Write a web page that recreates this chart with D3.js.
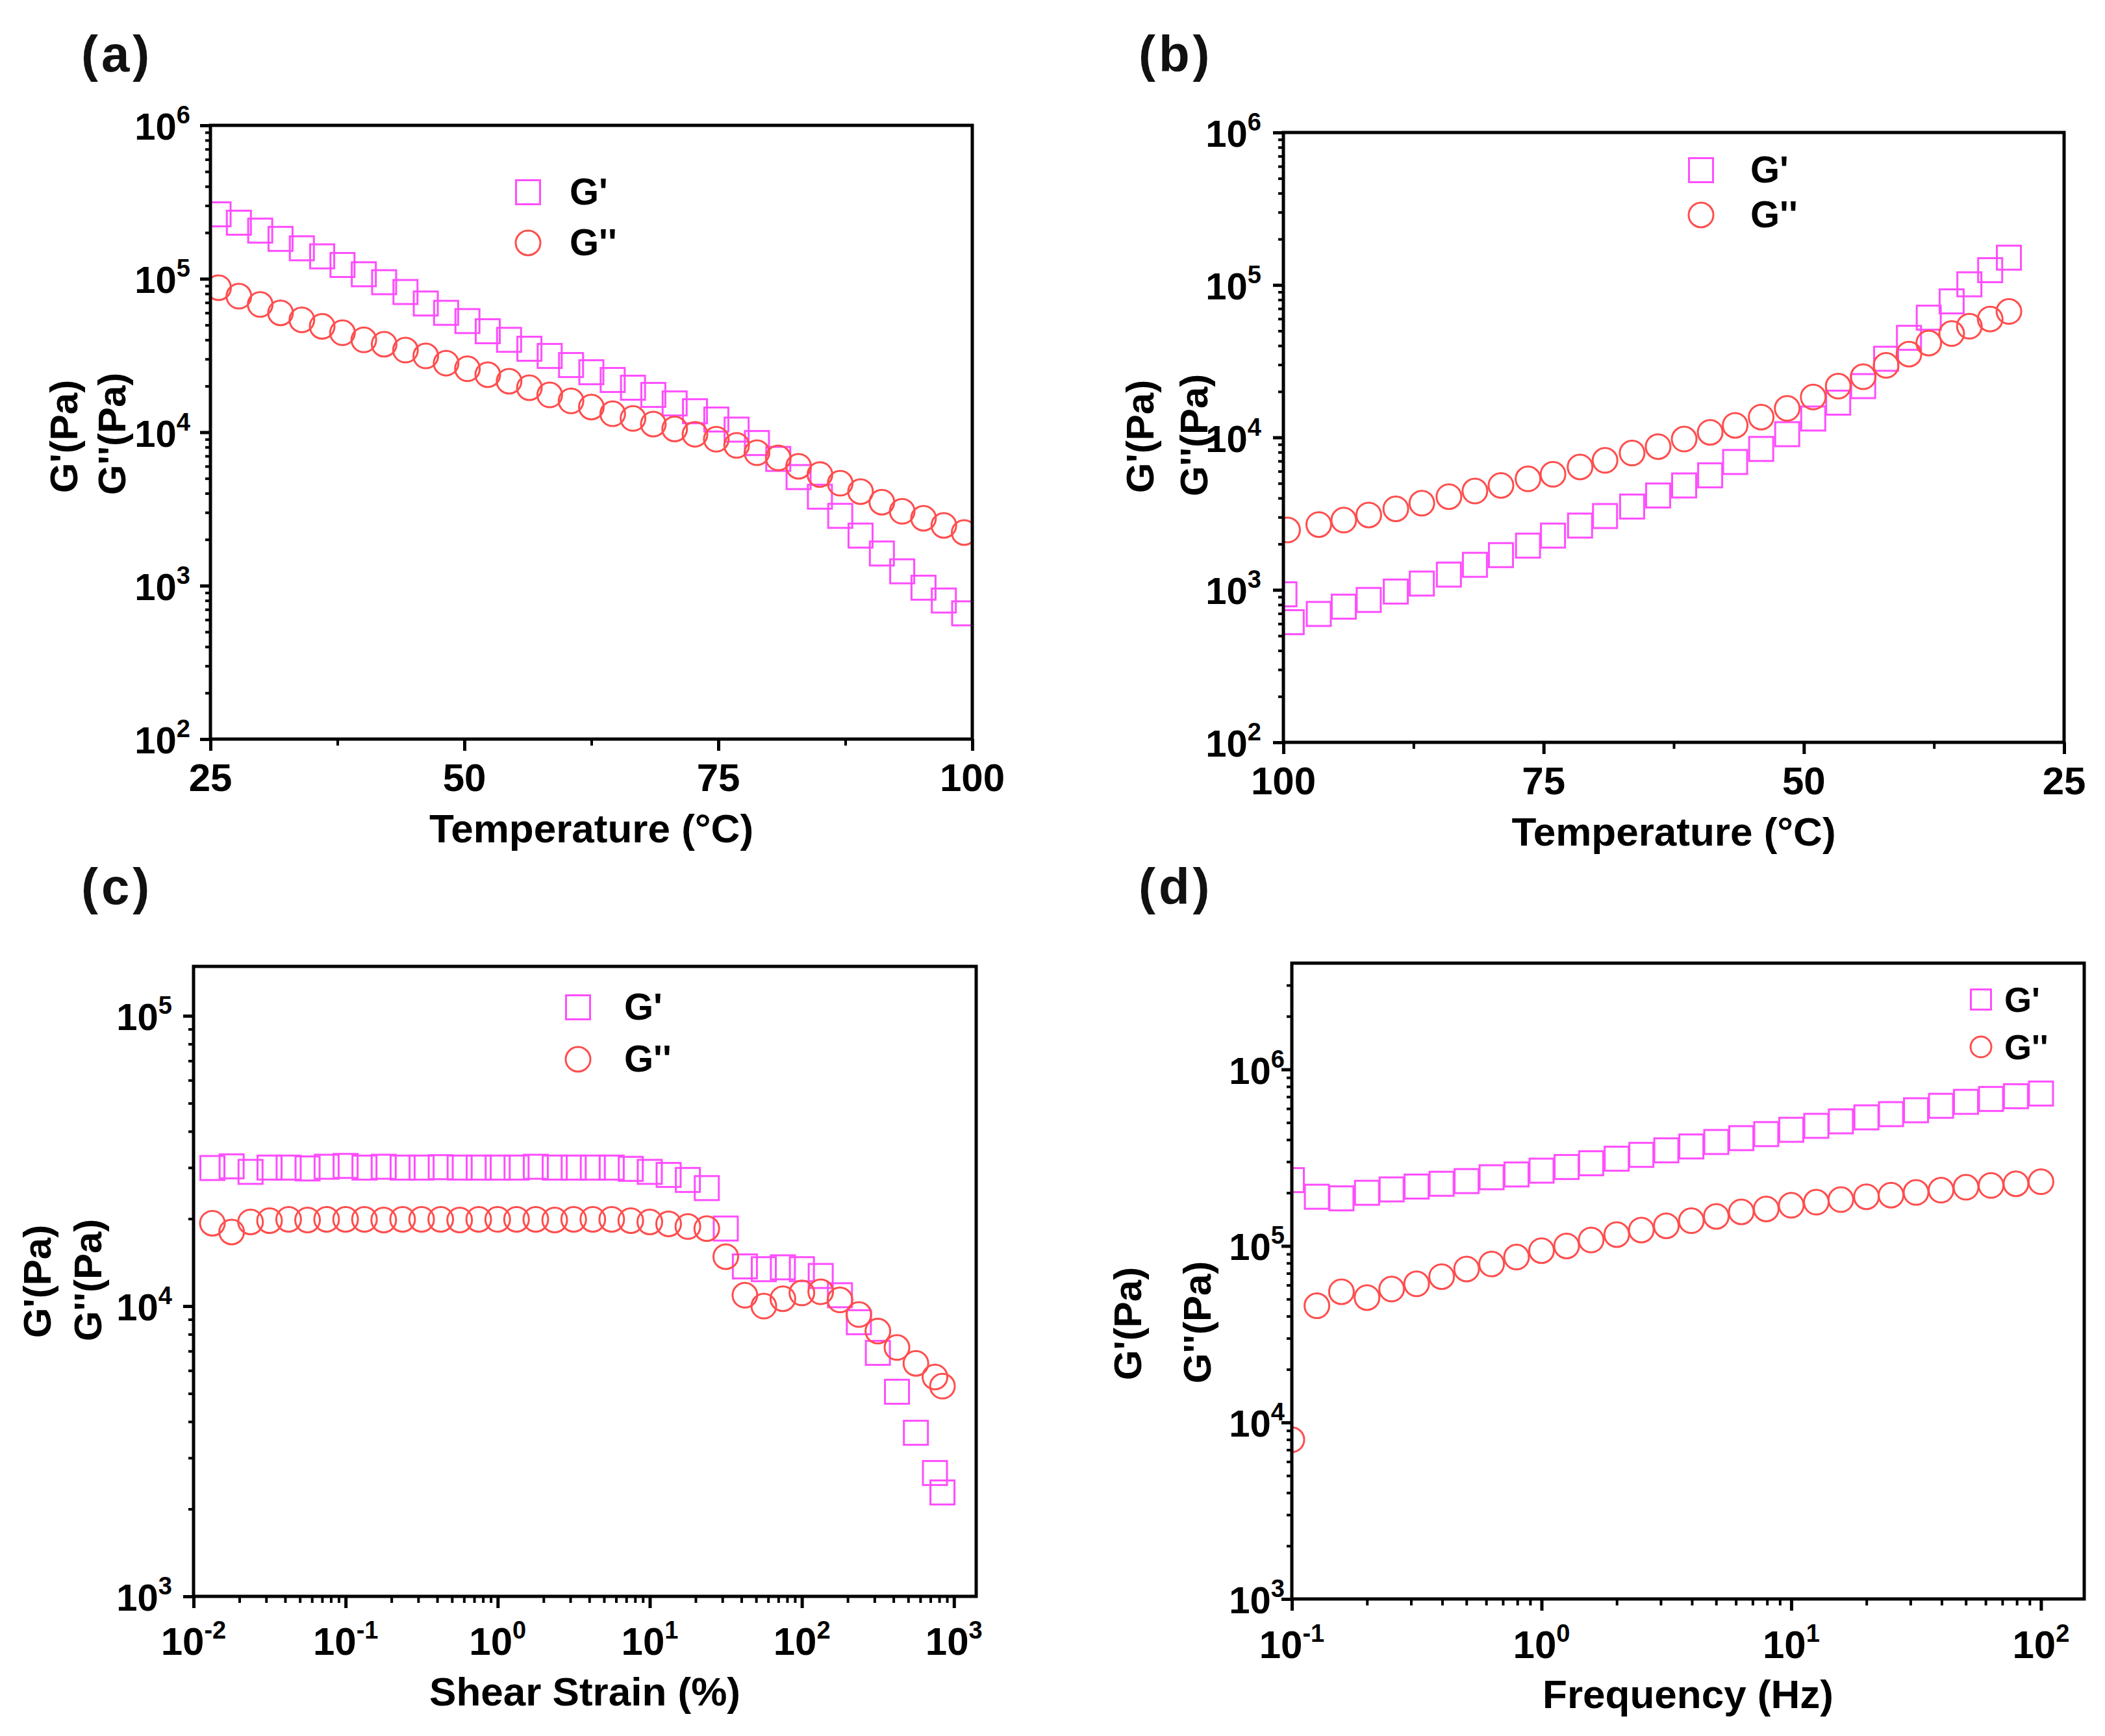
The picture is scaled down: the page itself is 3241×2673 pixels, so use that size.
<!DOCTYPE html>
<html>
<head>
<meta charset="utf-8">
<script src="https://cdn.jsdelivr.net/npm/d3@7"></script>
<style>
  body { margin: 0; background: #fff; }
</style>
</head>
<body>
<div id="chart"></div>
<script>
// ---- (a) heating temperature sweep ----
const tempA = [25.8, 27.8, 29.9, 31.9, 34.0, 36.0, 38.0, 40.1, 42.1, 44.2, 46.2, 48.2, 50.3,
    52.3, 54.4, 56.4, 58.4, 60.5, 62.5, 64.6, 66.6, 68.6, 70.7, 72.7, 74.8, 76.8, 78.8,
    80.9, 82.9, 85.0, 87.0, 89.0, 91.1, 93.1, 95.2, 97.2, 99.2];
const gpA = [2.63e5, 2.32e5, 2.06e5, 1.82e5, 1.58e5, 1.4e5, 1.23e5, 1.07e5, 9.5e4, 8.2e4,
    6.9e4, 6.0e4, 5.3e4, 4.55e4, 4.0e4, 3.5e4, 3.14e4, 2.74e4, 2.46e4, 2.19e4, 1.95e4,
    1.75e4, 1.54e4, 1.37e4, 1.21e4, 1.04e4, 8.5e3, 6.7e3, 5.1e3, 3.8e3, 2.85e3, 2.12e3,
    1.62e3, 1.24e3, 970, 800, 660];
const gppA = [8.75e4, 7.7e4, 6.8e4, 6.0e4, 5.4e4, 4.9e4, 4.45e4, 4.0e4, 3.75e4, 3.43e4,
    3.14e4, 2.82e4, 2.59e4, 2.37e4, 2.15e4, 1.95e4, 1.75e4, 1.6e4, 1.46e4, 1.32e4, 1.23e4,
    1.13e4, 1.05e4, 9.7e3, 9.0e3, 8.2e3, 7.35e3, 6.8e3, 6.0e3, 5.3e3, 4.65e3, 4.1e3,
    3.5e3, 3.05e3, 2.75e3, 2.47e3, 2.22e3];

// ---- (b) cooling temperature sweep ----
const tempBgp = [99.9, 99.2, 96.6, 94.2, 91.8, 89.2, 86.7, 84.1, 81.6, 79.1, 76.5, 74.1,
    71.5, 69.1, 66.5, 64.0, 61.5, 59.0, 56.6, 54.1, 51.6, 49.1, 46.7, 44.3, 42.1, 39.9,
    38.0, 35.8, 34.1, 32.1, 30.3];
const gpB = [935, 614, 695, 776, 859, 975, 1100, 1260, 1460, 1690, 1950, 2270, 2640, 3050,
    3520, 4160, 4840, 5640, 6900, 8400, 10500, 13300, 16900, 21700, 32800, 45000, 61000,
    78000, 101000, 125000, 151000];
const tempBgpp = [99.6, 96.6, 94.2, 91.8, 89.2, 86.7, 84.1, 81.6, 79.1, 76.5, 74.1, 71.5,
    69.1, 66.5, 64.0, 61.5, 59.0, 56.6, 54.1, 51.6, 49.1, 46.7, 44.3, 42.1, 39.9, 38.0,
    35.8, 34.1, 32.1, 30.3];
const gppB = [2470, 2680, 2870, 3100, 3400, 3700, 4090, 4450, 4840, 5350, 5730, 6400, 7070,
    7900, 8700, 9750, 10800, 12000, 13600, 15500, 18400, 21700, 25000, 29700, 35200, 41600,
    48000, 53600, 59800, 67000];

// ---- (c) strain sweep ----
const strainC = [0.0133, 0.0178, 0.0237, 0.0316, 0.0422, 0.0562, 0.075, 0.1, 0.133, 0.178,
    0.237, 0.316, 0.422, 0.562, 0.75, 1, 1.33, 1.78, 2.37, 3.16, 4.22, 5.62, 7.5, 10, 13.3,
    17.8, 23.7, 31.6, 42.2, 56.2, 75, 100, 133, 178, 237, 316, 422, 562, 750, 840];
const gpC = [2.99e4, 3.03e4, 2.9e4, 3.0e4, 3.0e4, 2.98e4, 3.02e4, 3.04e4, 3.0e4, 3.02e4,
    3.0e4, 3.0e4, 3.01e4, 3.0e4, 3.0e4, 3.0e4, 3.0e4, 3.02e4, 3.0e4, 3.0e4, 3.0e4, 3.0e4,
    2.97e4, 2.9e4, 2.83e4, 2.72e4, 2.55e4, 1.85e4, 1.37e4, 1.34e4, 1.36e4, 1.34e4, 1.27e4,
    1.09e4, 8.8e3, 6.9e3, 5.07e3, 3.66e3, 2.66e3, 2.28e3];
const gppC = [1.93e4, 1.8e4, 1.95e4, 1.97e4, 1.99e4, 1.98e4, 1.99e4, 1.99e4, 1.99e4, 1.98e4,
    1.99e4, 1.99e4, 1.99e4, 1.98e4, 1.99e4, 1.99e4, 1.99e4, 1.99e4, 1.98e4, 1.99e4, 1.99e4,
    1.99e4, 1.97e4, 1.95e4, 1.92e4, 1.88e4, 1.85e4, 1.48e4, 1.09e4, 1.0e4, 1.06e4, 1.11e4,
    1.12e4, 1.05e4, 9.35e3, 8.2e3, 7.2e3, 6.35e3, 5.7e3, 5.3e3];

// ---- (d) frequency sweep ----
const freqD = [0.1, 0.126, 0.158, 0.2, 0.251, 0.316, 0.398, 0.501, 0.631, 0.794, 1, 1.26,
    1.58, 2, 2.51, 3.16, 3.98, 5.01, 6.31, 7.94, 10, 12.6, 15.8, 20, 25.1, 31.6, 39.8, 50.1,
    63.1, 79.4, 100];
const gpD = [2.36e5, 1.9e5, 1.86e5, 2.0e5, 2.09e5, 2.17e5, 2.25e5, 2.33e5, 2.45e5, 2.54e5,
    2.67e5, 2.8e5, 2.94e5, 3.12e5, 3.28e5, 3.48e5, 3.66e5, 3.88e5, 4.08e5, 4.3e5, 4.55e5,
    4.79e5, 5.08e5, 5.35e5, 5.58e5, 5.87e5, 6.22e5, 6.55e5, 6.8e5, 7.05e5, 7.3e5];
const gppD = [7.98e3, 4.58e4, 5.5e4, 5.1e4, 5.7e4, 6.1e4, 6.7e4, 7.4e4, 7.9e4, 8.65e4,
    9.4e4, 1.0e5, 1.08e5, 1.16e5, 1.23e5, 1.3e5, 1.39e5, 1.47e5, 1.56e5, 1.62e5, 1.7e5,
    1.77e5, 1.83e5, 1.9e5, 1.94e5, 2.01e5, 2.07e5, 2.15e5, 2.2e5, 2.25e5, 2.31e5];

// tick values and texts
const tempTicks = [25, 50, 75, 100];
const tempMinor = [37.5, 62.5, 87.5];
const yTicksAB = [1e2, 1e3, 1e4, 1e5, 1e6];
const yTicksC = [1e3, 1e4, 1e5];
const yTicksD = [1e3, 1e4, 1e5, 1e6];
const xTicksC = [1e-2, 1e-1, 1e0, 1e1, 1e2, 1e3];
const xTicksD = [1e-1, 1e0, 1e1, 1e2];
const panelLabels = ["(a)", "(b)", "(c)", "(d)"];
const xTitles = ["Temperature (\u00B0C)", "Temperature (\u00B0C)", "Shear Strain (%)", "Frequency (Hz)"];
const yTitles = ["G'(Pa)", "G''(Pa)"];
const legendNames = ["G'", "G''"];

const W = 3241, H = 2673;
const colGp = "#ff4dff", colGpp = "#ff4d4d";
const FONT = "'Liberation Sans', Arial, Helvetica, sans-serif";

const svg = d3.select("#chart").append("svg")
    .attr("width", W)
    .attr("height", H)
    .attr("viewBox", `0 0 ${W} ${H}`)
    .style("font-family", FONT)
    .style("background", "#fff");

// minor ticks of a log scale (2..9 x 10^n inside the domain)
function logMinor(domain) {
    const lo = Math.min(...domain), hi = Math.max(...domain);
    const out = [];
    for (let e = Math.floor(Math.log10(lo)); e <= Math.ceil(Math.log10(hi)); e++) {
        for (let m = 2; m <= 9; m++) {
            const v = m * Math.pow(10, e);
            if (v > lo * 1.0001 && v < hi * 0.9999) out.push(v);
        }
    }
    return out;
}

function powerLabel(sel, v) {
    const e = Math.round(Math.log10(v));
    sel.append("tspan").text("10");
    sel.append("tspan").attr("font-size", 38).attr("dy", -25).text(e);
}

const panels = [
    { id: "a", box: [324, 1497, 193, 1138],
      x: d3.scaleLinear().domain([25, 100]), xLog: false,
      y: d3.scaleLog().domain([1e2, 1e6]),
      xMajor: tempTicks, xMinor: tempMinor, yMajor: yTicksAB,
      gp: [tempA, gpA], gpp: [tempA, gppA],
      yLabelGap: 31, xLabelDy: 80,
      label: [125, 110], yTitle: [[119, 672], [193, 668]],
      legend: { x: 813, y1: 296, y2: 374, tx: 877, size: 37, r: 19 } },
    { id: "b", box: [1976, 3178, 204, 1143],
      x: d3.scaleLinear().domain([100, 25]), xLog: false,
      y: d3.scaleLog().domain([1e2, 1e6]),
      xMajor: tempTicks, xMinor: tempMinor, yMajor: yTicksAB,
      gp: [tempBgp, gpB], gpp: [tempBgpp, gppB],
      yLabelGap: 34, xLabelDy: 80,
      label: [1753, 110], yTitle: [[1776, 672], [1859, 670]],
      legend: { x: 2619, y1: 262, y2: 331, tx: 2695, size: 37, r: 19 } },
    { id: "c", box: [298, 1503, 1488, 2458],
      x: d3.scaleLog().domain([1e-2, 1400]), xLog: true,
      y: d3.scaleLog().domain([1e3, 1.48e5]),
      xMajor: xTicksC, xMinor: null, yMajor: yTicksC,
      gp: [strainC, gpC], gpp: [strainC, gppC],
      yLabelGap: 33, xLabelDy: 90,
      label: [125, 1392], yTitle: [[78, 1973], [156, 1971]],
      legend: { x: 890, y1: 1551, y2: 1631, tx: 961, size: 37, r: 19 } },
    { id: "d", box: [1989, 3209, 1483, 2462],
      x: d3.scaleLog().domain([0.1, 149]), xLog: true,
      y: d3.scaleLog().domain([1e3, 4e6]),
      xMajor: xTicksD, xMinor: null, yMajor: yTicksD,
      gp: [freqD, gpD], gpp: [freqD, gppD],
      yLabelGap: 11, xLabelDy: 91,
      label: [1753, 1392], yTitle: [[1757, 2038], [1864, 2036]],
      legend: { x: 3050, y1: 1539, y2: 1612, tx: 3086, size: 31, r: 16 } }
];

panels.forEach((p, i) => {
    const [x0, x1, y0, y1] = p.box;
    const x = p.x.range([x0, x1]);
    const y = p.y.range([y1, y0]);
    const g = svg.append("g").attr("class", "panel-" + p.id);

    // clip for markers
    g.append("clipPath").attr("id", "clip-" + p.id)
        .append("rect")
        .attr("x", x0).attr("y", y0)
        .attr("width", x1 - x0).attr("height", y1 - y0);

    const marks = g.append("g").attr("clip-path", `url(#clip-${p.id})`);

    // G' squares
    const sq = 37;
    marks.selectAll("rect.gp")
        .data(d3.zip(p.gp[0], p.gp[1]))
        .join("rect")
        .attr("class", "gp")
        .attr("x", d => x(d[0]) - sq / 2)
        .attr("y", d => y(d[1]) - sq / 2)
        .attr("width", sq).attr("height", sq)
        .attr("fill", "none")
        .attr("stroke", colGp)
        .attr("stroke-width", 3);

    // G'' circles
    marks.selectAll("circle.gpp")
        .data(d3.zip(p.gpp[0], p.gpp[1]))
        .join("circle")
        .attr("class", "gpp")
        .attr("cx", d => x(d[0]))
        .attr("cy", d => y(d[1]))
        .attr("r", 19)
        .attr("fill", "none")
        .attr("stroke", colGpp)
        .attr("stroke-width", 3);

    // axes: major and minor ticks, outward
    const xMinor = p.xLog ? logMinor(x.domain()) : p.xMinor;
    const yMinor = logMinor(y.domain());

    const styleTicks = (sel, w) => {
        sel.select(".domain").remove();
        sel.selectAll("line").attr("stroke", "#000").attr("stroke-width", w);
    };

    g.append("g").attr("transform", `translate(0,${y1})`)
        .call(d3.axisBottom(x).tickValues(p.xMajor).tickSize(18).tickFormat(""))
        .call(s => styleTicks(s, 5));
    g.append("g").attr("transform", `translate(0,${y1})`)
        .call(d3.axisBottom(x).tickValues(xMinor).tickSize(10).tickFormat(""))
        .call(s => styleTicks(s, 4));
    g.append("g").attr("transform", `translate(${x0},0)`)
        .call(d3.axisLeft(y).tickValues(p.yMajor).tickSize(16).tickFormat(""))
        .call(s => styleTicks(s, 5));
    g.append("g").attr("transform", `translate(${x0},0)`)
        .call(d3.axisLeft(y).tickValues(yMinor).tickSize(8).tickFormat(""))
        .call(s => styleTicks(s, 4));

    // frame
    g.append("rect")
        .attr("x", x0).attr("y", y0)
        .attr("width", x1 - x0).attr("height", y1 - y0)
        .attr("fill", "none")
        .attr("stroke", "#000")
        .attr("stroke-width", 5);

    // x tick labels
    g.selectAll("text.xtl")
        .data(p.xMajor)
        .join("text")
        .attr("class", "xtl")
        .attr("x", d => x(d))
        .attr("y", y1 + p.xLabelDy)
        .attr("text-anchor", "middle")
        .attr("font-size", 60)
        .attr("font-weight", "bold")
        .each(function (d) {
            const t = d3.select(this);
            if (p.xLog) powerLabel(t, d);
            else t.text(d);
        });

    // y tick labels
    g.selectAll("text.ytl")
        .data(p.yMajor)
        .join("text")
        .attr("class", "ytl")
        .attr("x", x0 - p.yLabelGap)
        .attr("y", d => y(d) + 22)
        .attr("text-anchor", "end")
        .attr("font-size", 58)
        .attr("font-weight", "bold")
        .each(function (d) { powerLabel(d3.select(this), d); });

    // axis titles
    g.append("text")
        .attr("x", (x0 + x1) / 2)
        .attr("y", y1 + (p.xLog ? 168 : 159))
        .attr("text-anchor", "middle")
        .attr("font-size", 62)
        .attr("font-weight", "bold")
        .text(xTitles[i]);

    p.yTitle.forEach((pos, k) => {
        g.append("text")
            .attr("transform", `translate(${pos[0]},${pos[1]}) rotate(-90)`)
            .attr("text-anchor", "middle")
            .attr("font-size", 60)
            .attr("font-weight", "bold")
            .text(yTitles[k]);
    });

    // panel label
    g.append("text")
        .attr("x", p.label[0])
        .attr("y", p.label[1])
        .attr("font-size", 78)
        .attr("font-weight", "bold")
        .attr("letter-spacing", 5)
        .attr("fill", "#111")
        .text(panelLabels[i]);

    // legend
    const L = p.legend;
    g.append("rect")
        .attr("x", L.x - L.size / 2).attr("y", L.y1 - L.size / 2)
        .attr("width", L.size).attr("height", L.size)
        .attr("fill", "none").attr("stroke", colGp).attr("stroke-width", 3);
    g.append("circle")
        .attr("cx", L.x).attr("cy", L.y2).attr("r", L.r)
        .attr("fill", "none").attr("stroke", colGpp).attr("stroke-width", 3);
    [L.y1, L.y2].forEach((ly, k) => {
        g.append("text")
            .attr("x", L.tx)
            .attr("y", ly + 19)
            .attr("font-size", p.id === "d" ? 54 : 58)
            .attr("font-weight", "bold")
            .text(legendNames[k]);
    });
});
</script>
</body>
</html>
